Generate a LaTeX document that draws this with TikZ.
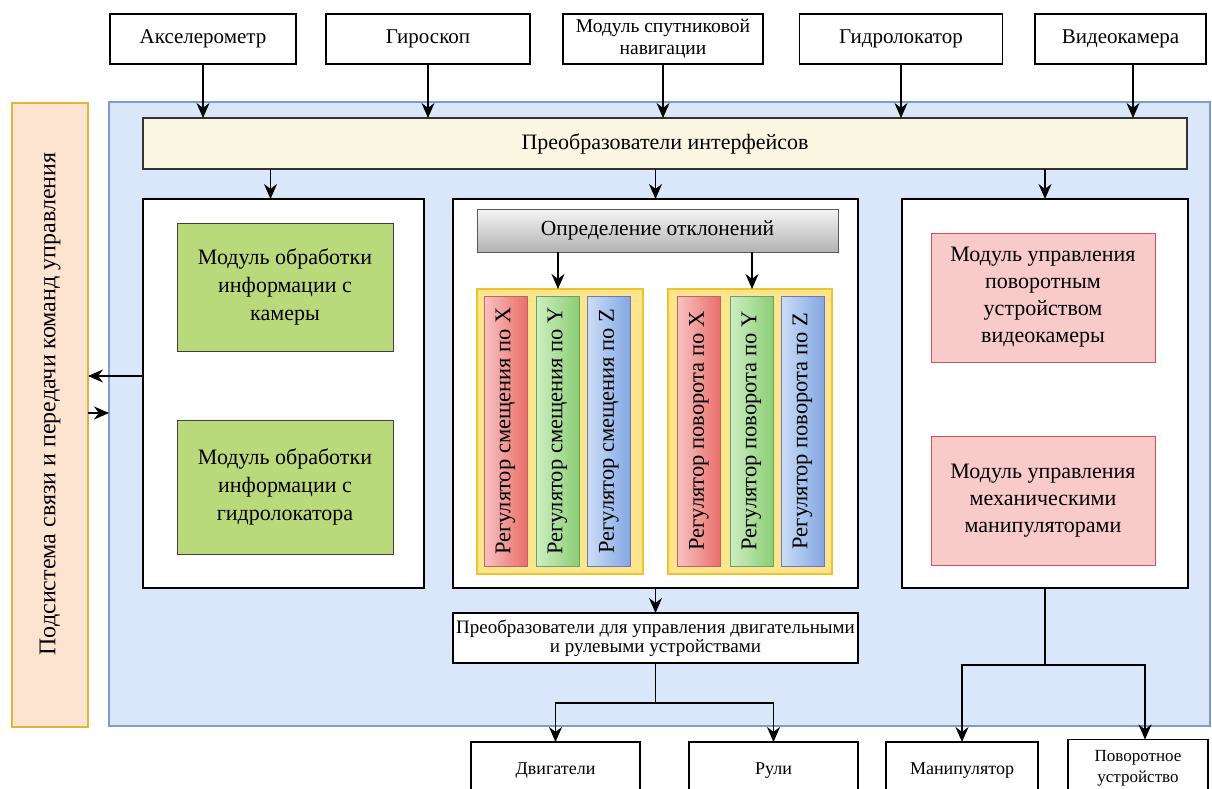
\documentclass[tikz,border=0pt]{standalone}
\usepackage{fontspec}
\setmainfont{Liberation Serif}
\usetikzlibrary{arrows.meta}
\newcommand\fsz[2]{\fontsize{#1}{#2}\selectfont}
\definecolor{corefill}{HTML}{DAE7FA}
\definecolor{coreline}{HTML}{7E9DCB}
\definecolor{commfill}{HTML}{FDE4D0}
\definecolor{commline}{HTML}{E2B43A}
\definecolor{barfill}{HTML}{FBF6E2}
\definecolor{greenfill}{HTML}{BAD97B}
\definecolor{pinkfill}{HTML}{F8CACA}
\definecolor{pinkline}{HTML}{D4505A}
\definecolor{grpfill}{HTML}{FCE58A}
\definecolor{grpline}{HTML}{F2C12E}
\definecolor{redA}{HTML}{F7C2C1}
\definecolor{redB}{HTML}{EA6E6A}
\definecolor{greenA}{HTML}{CDEEC1}
\definecolor{greenB}{HTML}{8CCE76}
\definecolor{blueA}{HTML}{CCDDF7}
\definecolor{blueB}{HTML}{82A7E2}
\begin{document}
\begin{tikzpicture}[x=1pt,y=-1pt,
  every node/.style={inner sep=0pt, outer sep=0pt, align=center},
  plain/.style={draw=black, line width=1.3pt, fill=white, rectangle},
  sensor/.style={plain, minimum height=50pt, font=\fsz{21}{25}},
  panel/.style={plain, minimum width=#1, minimum height=389pt},
  gbox/.style={draw=black!75, line width=1pt, fill=greenfill, minimum width=216pt, font=\fsz{22}{28}},
  pbox/.style={draw=pinkline, line width=1pt, fill=pinkfill, minimum width=224pt, minimum height=129pt, font=\fsz{22}{27}},
  grp/.style={draw=grpline, line width=2pt, fill=grpfill, minimum height=285pt},
  reg/.style={rotate=90, minimum width=270pt, minimum height=43pt, line width=0.8pt, font=\fsz{22.5}{26}},
  regx/.style={reg, draw=red!55!black!60, left color=redA, right color=redB},
  regy/.style={reg, draw=green!40!black!60, left color=greenA, right color=greenB},
  regz/.style={reg, draw=blue!50!black!55, left color=blueA, right color=blueB},
  outbox/.style={plain, minimum height=58pt, font=\fsz{18}{21}},
  arr/.style={-{Stealth[length=15pt,width=13pt]}, line width=1.4pt},
  ln/.style={line width=1.4pt}
]
\clip (0,0) rectangle (1212,789);
\fill[white] (0,0) rectangle (1212,789);

% main unit and the communication subsystem
\node[draw=coreline, line width=1.2pt, fill=corefill, minimum width=1101pt, minimum height=624pt] (core) at (659.5,414) {};
\node[draw=commline, line width=1.5pt, fill=commfill, rotate=90, minimum width=624pt, minimum height=76pt,
      font=\fsz{24}{28}] (comm) at (50,415) {\hspace*{22pt}Подсистема связи и передачи команд управления};

% sensors
\node[sensor, minimum width=186pt] (acc) at (203,39) {Акселерометр};
\node[sensor, minimum width=204pt] (gyro) at (428,39) {Гироскоп};
\node[sensor, minimum width=200pt, font=\fsz{19.5}{22}] (gnss) at (663,39) {Модуль спутниковой\\навигации};
\node[sensor, minimum width=203pt] (sonar) at (901,39) {Гидролокатор};
\node[sensor, minimum width=171pt] (cam) at (1120.5,39) {Видеокамера};

% interface converters
\node[draw=black!80, line width=1.2pt, fill=barfill, minimum width=1044pt, minimum height=51pt,
      font=\fsz{22}{26}] (bar) at (665,143.5) {Преобразователи интерфейсов};

% processing panels
\node[panel=281pt] (lp) at (283.5,393.5) {};
\node[panel=405pt] (mp) at (655.5,393.5) {};
\node[panel=286pt] (rp) at (1045,393.5) {};

% left panel content
\node[gbox, minimum height=128pt] (g1) at (285,287) {Модуль обработки\\информации с\\камеры};
\node[gbox, minimum height=134pt] (g2) at (285,487) {Модуль обработки\\информации с\\гидролокатора};

% middle panel content
\node[draw=black!65, line width=1pt, top color=white!96!black, bottom color=black!30, minimum width=361pt,
      minimum height=43pt, font=\fsz{21.5}{25}] (dev) at (657.5,230.5) {Определение отклонений};
\node[grp, minimum width=166pt] (gs) at (560,431.5) {};
\node[grp, minimum width=164pt] (gr) at (750,431.5) {};
\node[regx] (sx) at (505.5,431) {Регулятор смещения по X};
\node[regy] (sy) at (557.5,431) {Регулятор смещения по Y};
\node[regz] (sz) at (609,431) {Регулятор смещения по Z};
\node[regx] (rx) at (699,431) {Регулятор поворота по X};
\node[regy] (ry) at (751.5,431) {Регулятор поворота по Y};
\node[regz] (rz) at (802.5,431) {Регулятор поворота по Z};

% right panel content
\node[pbox] (p1) at (1043,297.5) {Модуль управления\\поворотным\\устройством\\видеокамеры};
\node[pbox] (p2) at (1043,500.5) {Модуль управления\\механическими\\манипуляторами};

% drive converters
\node[plain, minimum width=405pt, minimum height=50pt, font=\fsz{19}{19}] (conv) at (655.5,638)
  {Преобразователи для управления двигательными\\и рулевыми устройствами};

% actuators
\node[outbox, minimum width=169pt] (mot) at (555.5,771) {Двигатели};
\node[outbox, minimum width=169pt] (rud) at (773.5,771) {Рули};
\node[outbox, minimum width=152pt] (man) at (962,771) {Манипулятор};
\node[outbox, minimum width=140pt, font=\fsz{17}{21}] (rot) at (1138,768.5) {Поворотное\\устройство};

% sensor inputs
\draw[arr] (acc.south) -- (acc.south |- bar.north);
\draw[arr] (gyro.south) -- (gyro.south |- bar.north);
\draw[arr] (gnss.south) -- (gnss.south |- bar.north);
\draw[arr] (sonar.south) -- (sonar.south |- bar.north);
\draw[arr] ([xshift=12.5pt]cam.south) -- ([xshift=12.5pt]cam.south |- bar.north);

% converters to panels
\draw[arr] ([xshift=-13pt]lp.north |- bar.south) -- ([xshift=-13pt]lp.north);
\draw[arr] (mp.north |- bar.south) -- (mp.north);
\draw[arr] (rp.north |- bar.south) -- (rp.north);

% deviation to regulator groups
\draw[arr] ([xshift=-2pt]gs.north |- dev.south) -- ([xshift=-2pt]gs.north);
\draw[arr] ([xshift=2pt]gr.north |- dev.south) -- ([xshift=2pt]gr.north);

% exchange with the communication subsystem
\coordinate (ltap) at (lp.west |- 0,376);
\coordinate (rtap) at (comm.south |- 0,413);
\draw[arr] (ltap) -- (ltap -| comm.south);
\draw[arr] (rtap) -- (rtap -| core.west);

% middle panel to drive converters and actuators
\draw[arr] (mp.south) -- (mp.south |- conv.north);
\coordinate (cj) at (conv.south |- 0,703);
\draw[ln] (conv.south) -- (cj);
\draw[arr] (cj) -| (mot.north);
\draw[arr] (cj) -| (rud.north);

% right panel to manipulator and camera mount
\coordinate (rj) at (rp.south |- 0,665);
\draw[ln] (rp.south) -- (rj);
\draw[arr] (rj) -| (man.north);
\draw[arr] (rj) -| ([xshift=7pt]rot.north);
\end{tikzpicture}
\end{document}
